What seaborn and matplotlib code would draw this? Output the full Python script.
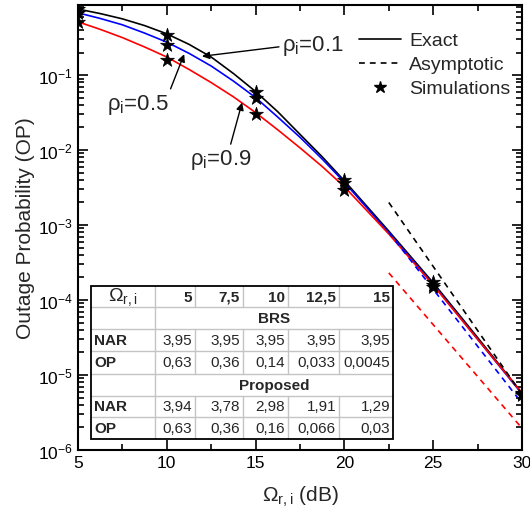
import numpy as np
import pandas as pd
import seaborn as sns
import matplotlib
matplotlib.use("Agg")
import matplotlib.pyplot as plt
from matplotlib.lines import Line2D
from matplotlib.ticker import LogLocator, MultipleLocator, NullFormatter

# ---------------- data ----------------
x_exact = [5, 6.25, 7.5, 8.75, 10, 11.25, 12.5, 13.75, 15, 16.25, 17.5, 18.75,
           20, 22.5, 25, 27.5, 30]
op_exact_01 = [0.759, 0.661, 0.562, 0.457, 0.355, 0.257, 0.174, 0.105, 0.0603,
               0.0324, 0.0162, 0.00813, 0.00389, 8.3e-4, 1.7e-4, 3.16e-5, 5.75e-6]
op_exact_05 = [0.676, 0.569, 0.468, 0.363, 0.275, 0.195, 0.132, 0.0832, 0.0501,
               0.0275, 0.0148, 0.00759, 0.00372, 7.9e-4, 1.62e-4, 3.0e-5, 5.6e-6]
op_exact_09 = [0.513, 0.407, 0.316, 0.237, 0.174, 0.119, 0.0794, 0.0513, 0.0316,
               0.0186, 0.0107, 0.00603, 0.00324, 7.6e-4, 1.58e-4, 3.0e-5, 5.75e-6]

x_sim = [5, 10, 15, 20, 25, 30]
op_sim_01 = [0.75, 0.34, 0.059, 0.0040, 1.75e-4, 5.7e-6]
op_sim_05 = [0.67, 0.254, 0.049, 0.0036, 1.6e-4, 5.5e-6]
op_sim_09 = [0.51, 0.16, 0.030, 0.0029, 1.5e-4, 5.4e-6]

x_asym = [22.5, 30]
op_asym_01 = [2.0e-3, 5.5e-6]
op_asym_05 = [8.0e-4, 4.2e-6]
op_asym_09 = [2.3e-4, 1.95e-6]

rho_labels = ["0.1", "0.5", "0.9"]
colors = ["#000000", "#0000FF", "#FF0000"]

tbl_header = ["5", "7,5", "10", "12,5", "15"]
brs_nar = ["3,95", "3,95", "3,95", "3,95", "3,95"]
brs_op = ["0,63", "0,36", "0,14", "0,033", "0,0045"]
prop_nar = ["3,94", "3,78", "2,98", "1,91", "1,29"]
prop_op = ["0,63", "0,36", "0,16", "0,066", "0,03"]

# ---------------- style ----------------
sns.set_style("ticks")
plt.rcParams["font.family"] = ["Liberation Sans", "DejaVu Sans"]
plt.rcParams["mathtext.fontset"] = "custom"
plt.rcParams["mathtext.rm"] = "Liberation Sans"
plt.rcParams["mathtext.it"] = "Liberation Sans"
plt.rcParams["mathtext.bf"] = "Liberation Sans:bold"
plt.rcParams["mathtext.default"] = "regular"

fig = plt.figure(figsize=(5.3, 5.1), dpi=100)
L, R, T, B = 78, 522, 6, 451
ax = fig.add_axes([L / 530, 1 - B / 510, (R - L) / 530, (B - T) / 510])

exact = pd.DataFrame({
    "x": x_exact * 3,
    "op": op_exact_01 + op_exact_05 + op_exact_09,
    "rho": sum([[r] * len(x_exact) for r in rho_labels], []),
})
asym = pd.DataFrame({
    "x": x_asym * 3,
    "op": op_asym_01 + op_asym_05 + op_asym_09,
    "rho": sum([[r] * len(x_asym) for r in rho_labels], []),
})
sim = pd.DataFrame({
    "x": x_sim * 3,
    "op": op_sim_01 + op_sim_05 + op_sim_09,
    "rho": sum([[r] * len(x_sim) for r in rho_labels], []),
})
pal = dict(zip(rho_labels, colors))

sns.lineplot(data=exact, x="x", y="op", hue="rho", palette=pal, lw=1.2,
             legend=False, ax=ax, sort=False)
for r in rho_labels:
    d = asym[asym.rho == r]
    sns.lineplot(data=d, x="x", y="op", color=pal[r], lw=1.2, ax=ax,
                 legend=False, dashes=False, linestyle=(0, (3.5, 3)))
sns.scatterplot(data=sim, x="x", y="op", marker="*", color="black", s=110,
                edgecolor="black", linewidth=0.5, legend=False, ax=ax, zorder=5)

ax.set_yscale("log")
ax.set_xlim(5, 30)
ax.set_ylim(1e-6, 0.86)
ax.xaxis.set_major_locator(MultipleLocator(5))
ax.xaxis.set_minor_locator(MultipleLocator(2.5))
ax.yaxis.set_major_locator(LogLocator(base=10, numticks=20))
ax.yaxis.set_minor_locator(LogLocator(base=10, subs=np.arange(2, 10), numticks=20))
ax.yaxis.set_minor_formatter(NullFormatter())
ax.tick_params(which="both", direction="in", top=True, right=True, width=1.2,
               labelsize=12.5, colors="black")
ax.tick_params(which="major", length=7)
ax.tick_params(which="minor", length=4)
for s in ax.spines.values():
    s.set_linewidth(1.5)
    s.set_color("black")

ax.set_xlabel(r"$\Omega_{r,i}$ (dB)", fontsize=15, labelpad=10)
ax.set_ylabel("Outage Probability (OP)", fontsize=15, labelpad=2)

# legend
handles = [Line2D([], [], color="black", lw=1.2),
           Line2D([], [], color="black", lw=1.2, linestyle=(0, (3.5, 3))),
           Line2D([], [], color="black", lw=0, marker="*", markersize=9)]
ax.legend(handles, ["Exact", "Asymptotic", "Simulations"], loc="upper right",
          bbox_to_anchor=(1.0, 0.966), frameon=False, fontsize=14,
          handlelength=2.2, handletextpad=0.4, labelspacing=0.33,
          borderaxespad=0.2)

# annotations
def arrow(rp):
    return dict(arrowstyle="-|>", color="black", lw=1.0, mutation_scale=11,
                shrinkA=0, shrinkB=0, relpos=rp)

ax.annotate(r"$\rho_i$=0.1", xy=(11.98, 0.178), xytext=(16.5, 0.25),
            fontsize=16, arrowprops=arrow((0.0, 0.45)), va="center", ha="left")
ax.annotate(r"$\rho_i$=0.5", xy=(10.98, 0.19), xytext=(6.64, 0.041),
            fontsize=16, arrowprops=arrow((0.98, 0.85)), va="center", ha="left")
ax.annotate(r"$\rho_i$=0.9", xy=(14.24, 0.043), xytext=(11.32, 0.0075),
            fontsize=16, arrowprops=arrow((0.63, 0.9)), va="center", ha="left")

# table (pixel layout -> axes fraction)
def ax_xy(px, py):
    return (px - L) / (R - L), (B - py) / (B - T)

xe = [91, 155, 195, 243, 288, 339, 393]
ye = [287, 308, 330, 352, 375, 397, 418, 440]
x0, y1 = ax_xy(xe[0], ye[0])
x1, y0 = ax_xy(xe[-1], ye[-1])
ax.add_patch(plt.Rectangle((x0, y0), x1 - x0, y1 - y0, transform=ax.transAxes,
                           facecolor="white", edgecolor="none", zorder=6))
gray = "#c4c4c4"
for yy in ye[1:-1]:
    a, b = ax_xy(xe[0], yy)
    c, _ = ax_xy(xe[-1], yy)
    ax.plot([a, c], [b, b], transform=ax.transAxes, color=gray, lw=1, zorder=7)
for i, xx in enumerate(xe[1:-1]):
    for r in range(7):
        if r in (1, 4) and i > 0:
            continue
        a, b = ax_xy(xx, ye[r])
        _, c = ax_xy(xx, ye[r + 1])
        ax.plot([a, a], [b, c], transform=ax.transAxes, color=gray, lw=1, zorder=7)
ax.add_patch(plt.Rectangle((x0, y0), x1 - x0, y1 - y0, transform=ax.transAxes,
                           facecolor="none", edgecolor="black", lw=1.3, zorder=8))

def cell_text(col, row, s, bold=False, ha="right", fs=11):
    yc = (ye[row] + ye[row + 1]) / 2
    if ha == "right":
        px = xe[col + 1] - 3
    elif ha == "left":
        px = xe[col] + 3
    else:
        px = (xe[col] + xe[col + 1]) / 2
    ax.text(*ax_xy(px, yc), s, transform=ax.transAxes, ha=ha, va="center",
            fontsize=fs, fontweight="bold" if bold else "normal", zorder=9)

cell_text(0, 0, r"$\Omega_{r,i}$", ha="center", fs=14)
for j, v in enumerate(tbl_header):
    cell_text(j + 1, 0, v, bold=True)
ax.text(*ax_xy((xe[1] + xe[-1]) / 2, (ye[1] + ye[2]) / 2), "BRS",
        transform=ax.transAxes, ha="center", va="center", fontsize=11,
        fontweight="bold", zorder=9)
ax.text(*ax_xy((xe[1] + xe[-1]) / 2, (ye[4] + ye[5]) / 2), "Proposed",
        transform=ax.transAxes, ha="center", va="center", fontsize=11,
        fontweight="bold", zorder=9)
for row, lab, vals in [(2, "NAR", brs_nar), (3, "OP", brs_op),
                       (5, "NAR", prop_nar), (6, "OP", prop_op)]:
    cell_text(0, row, lab, bold=True, ha="left")
    for j, v in enumerate(vals):
        cell_text(j + 1, row, v)

fig.savefig("out.png", dpi=100)
